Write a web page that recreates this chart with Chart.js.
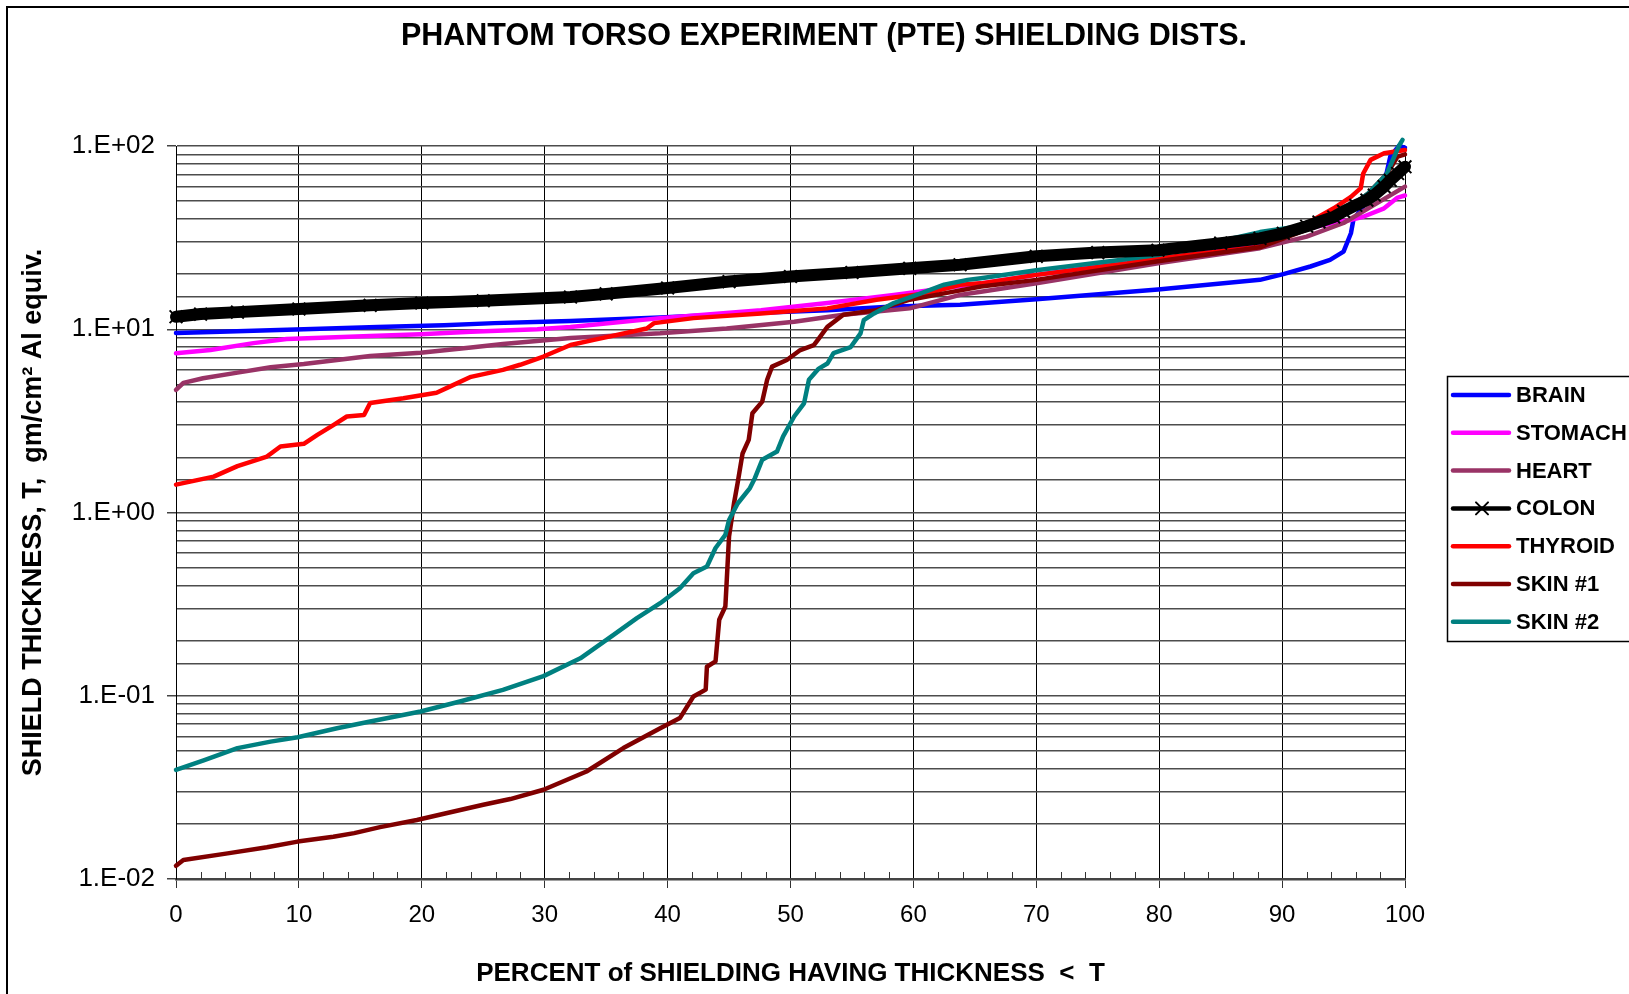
<!DOCTYPE html>
<html lang="en">
<head>
<meta charset="UTF-8">
<title>PTE shielding distributions</title>
<script src="https://cdn.jsdelivr.net/npm/chart.js"></script>
<style>
  html, body { margin: 0; padding: 0; background: #fff; }
</style>
</head>
<body>
<canvas id="myChart" width="1629" height="994"></canvas>
<script>
// percent of shielding (x) and thickness in gm/cm2 (y)
const brainX = [0, 3.6, 10.4, 16.4, 21.8, 25.9, 29.9, 32.1, 39.4, 47.6, 53, 58.4, 63.8, 70, 79.9, 88.2, 90.1, 92.3, 93.9, 95, 95.6, 95.8, 96.6, 97.7, 98.5, 98.8, 99.5, 100];
const brainY = [9.55, 9.7, 10, 10.3, 10.5, 10.8, 11.0, 11.1, 11.6, 12.3, 12.7, 13.3, 13.6, 14.6, 16.5, 18.6, 20, 22, 23.9, 26.5, 33.4, 39.5, 46.8, 57.5, 71, 87.5, 100, 98];

const stomachX = [0, 2.8, 6.3, 9.0, 15.8, 19.9, 24, 29.4, 32.1, 39.4, 47.6, 53, 58.4, 65.5, 70, 76.8, 80, 88, 92.8, 94.6, 95.6, 96.6, 98.3, 99.4, 100];
const stomachY = [7.4, 7.7, 8.4, 8.85, 9.2, 9.4, 9.7, 10.0, 10.3, 11.5, 12.7, 13.9, 15.4, 17.8, 19.8, 22.9, 24, 29, 36.3, 38.6, 39.5, 41.1, 45.7, 52.3, 53.7];

const heartX = [0, 0.6, 2.2, 5, 7.7, 10.4, 13.1, 15.8, 19.9, 24, 26.6, 32.1, 39.4, 44.8, 50.3, 54.3, 59.7, 63.8, 65.5, 70, 79.9, 88.2, 92, 95, 98, 100];
const heartY = [4.67, 5.1, 5.4, 5.8, 6.2, 6.46, 6.8, 7.15, 7.45, 7.95, 8.3, 8.97, 9.5, 10.1, 11.0, 12.0, 13.0, 15.4, 16.0, 17.8, 22.9, 27.7, 32, 38, 50, 60];

const colonX = [0, 2, 5, 10, 15.8, 20, 25, 32.1, 35, 40, 45, 50, 55, 59.7, 63.8, 70, 75, 79.9, 85, 88.2, 90.1, 92, 93, 94.2, 95, 96, 96.9, 97.5, 98.3, 98.8, 99.4, 100];
const colonY = [11.7, 12.1, 12.4, 12.9, 13.5, 13.9, 14.3, 15.0, 15.6, 16.8, 18.2, 19.4, 20.4, 21.5, 22.5, 25, 26.2, 27, 29.5, 31.3, 33.4, 36.5, 38.5, 41, 44, 47.5, 50.7, 54, 60, 65, 70.8, 77];

const thyroidX = [0, 3.07, 5.0, 7.4, 8.5, 10.4, 11.5, 12.8, 13.9, 15.3, 15.8, 18.5, 21.2, 22.1, 24, 26.6, 28, 29.9, 32.1, 34, 38.3, 38.9, 42.1, 47.6, 53, 57, 61.1, 63.8, 65.5, 70, 77.4, 79.9, 88.2, 90.1, 94.2, 95.6, 96.4, 96.6, 97.2, 98.3, 99.1, 100];
const thyroidY = [1.42, 1.57, 1.79, 2.02, 2.29, 2.37, 2.65, 3.0, 3.34, 3.4, 3.96, 4.2, 4.5, 4.8, 5.5, 6.0, 6.4, 7.1, 8.2, 8.75, 10.1, 10.8, 11.5, 12.2, 13.0, 14.5, 15.7, 17.5, 17.8, 19.8, 22.9, 24.4, 28.2, 32, 45.7, 52.8, 58.9, 70.8, 84, 91.2, 93, 95];

const skin1X = [0, 0.6, 4.2, 7.4, 9.9, 12.8, 14.5, 16.6, 19.6, 21.8, 25.0, 27.2, 29.9, 33.4, 36.4, 39.4, 41.0, 42.1, 43.1, 43.2, 43.9, 44.2, 44.7, 44.8, 45.0, 45.4, 45.7, 46.1, 46.6, 46.9, 47.7, 48.1, 48.5, 49.7, 50.8, 51.9, 52.3, 53, 54.3, 57, 59.7, 62.5, 65.5, 70, 79.9, 88.2, 92, 95, 97, 98.5, 99.4, 100];
const skin1Y = [0.0118, 0.0127, 0.0138, 0.0149, 0.016, 0.017, 0.0178, 0.0192, 0.021, 0.0227, 0.0254, 0.0273, 0.0307, 0.0386, 0.0518, 0.0665, 0.0755, 0.099, 0.108, 0.144, 0.154, 0.26, 0.307, 0.41, 0.74, 1.12, 1.45, 2.1, 2.49, 3.48, 4.03, 5.3, 6.25, 6.8, 7.7, 8.2, 8.9, 10.3, 12.0, 12.7, 14.5, 15.7, 17.1, 18.6, 23.5, 28, 35, 44, 55, 70, 87.5, 90];

const skin2X = [0, 2.25, 5.0, 7.7, 9.9, 13.1, 15.8, 19.9, 23.1, 26.6, 29.9, 32.9, 35.6, 37.5, 39.4, 41.0, 42.1, 43.2, 43.9, 44.7, 45.0, 45.7, 46.7, 47.1, 47.7, 48.9, 49.4, 50.3, 51.1, 51.5, 52.3, 53.0, 53.5, 54.9, 55.7, 55.96, 56.8, 58.4, 60.6, 62.5, 64.4, 65.5, 70, 76.8, 80, 88.2, 92, 95, 97, 98.5, 99.5, 99.8];
const skin2Y = [0.0394, 0.0444, 0.0518, 0.0562, 0.0594, 0.0665, 0.0724, 0.082, 0.093, 0.1076, 0.128, 0.16, 0.215, 0.265, 0.32, 0.386, 0.466, 0.507, 0.64, 0.755, 0.91, 1.12, 1.36, 1.54, 1.94, 2.15, 2.6, 3.34, 3.94, 5.3, 6.1, 6.5, 7.4, 8.0, 9.5, 11.2, 12.2, 13.9, 15.7, 17.5, 18.6, 19.0, 21.0, 23.9, 25.5, 33.9, 37, 44, 55, 70, 100, 108];

const seriesNames = ['BRAIN', 'STOMACH', 'HEART', 'COLON', 'THYROID', 'SKIN #1', 'SKIN #2'];
const seriesColors = ['#0000FF', '#FF00FF', '#993366', '#000000', '#FF0000', '#800000', '#008080'];
const seriesX = [brainX, stomachX, heartX, colonX, thyroidX, skin1X, skin2X];
const seriesY = [brainY, stomachY, heartY, colonY, thyroidY, skin1Y, skin2Y];
// Excel draws later series on top, colon band sits over everything
const drawOrder = [6, 5, 4, 0, 3, 2, 1];

const chartTitle = 'PHANTOM TORSO EXPERIMENT (PTE) SHIELDING DISTS.';
const FONT = "Arial, 'Liberation Sans', sans-serif";

function decadeLabel(v) {
  const e = Math.log10(v);
  const r = Math.round(e);
  if (Math.abs(e - r) > 1e-6) return '';
  return '1.E' + (r < 0 ? '-' : '+') + String(Math.abs(r)).padStart(2, '0');
}

const datasets = seriesNames.map((name, i) => {
  const isColon = name === 'COLON';
  return {
    label: name,
    data: seriesX[i].map((x, j) => ({ x: x, y: seriesY[i][j] })),
    borderColor: seriesColors[i],
    backgroundColor: seriesColors[i],
    borderWidth: isColon ? 12 : 4.5,
    borderJoinStyle: 'round',
    borderCapStyle: 'round',
    pointStyle: isColon ? 'crossRot' : 'circle',
    pointRadius: isColon ? 9 : 0,
    pointBorderWidth: 2,
    pointBorderColor: seriesColors[i],
    tension: 0,
    clip: false,
    order: drawOrder[i]
  };
});

// white page, outer frame and the page title (centred on the page, not the plot)
const framePlugin = {
  id: 'frame',
  beforeDraw(chart) {
    const ctx = chart.ctx;
    ctx.save();
    ctx.fillStyle = '#fff';
    ctx.fillRect(0, 0, chart.width, chart.height);
    ctx.strokeStyle = '#000';
    ctx.lineWidth = 2;
    ctx.strokeRect(7, 7, chart.width + 50, chart.height + 50);
    ctx.fillStyle = '#000';
    ctx.font = 'bold 30.5px ' + FONT;
    ctx.textAlign = 'center';
    ctx.textBaseline = 'middle';
    ctx.fillText(chartTitle, 824, 37);
    ctx.restore();
  }
};

// small inside ticks every 2 % on the x axis
const minorTicks = {
  id: 'minorTicks',
  beforeDatasetsDraw(chart) {
    const ctx = chart.ctx;
    const xs = chart.scales.x;
    const b = chart.chartArea.bottom;
    ctx.save();
    ctx.strokeStyle = '#333';
    ctx.lineWidth = 1;
    for (let v = 2; v < 100; v += 2) {
      if (v % 10 === 0) continue;
      const px = Math.round(xs.getPixelForValue(v)) + 0.5;
      ctx.beginPath();
      ctx.moveTo(px, b);
      ctx.lineTo(px, b - 7);
      ctx.stroke();
    }
    ctx.restore();
  }
};

// legend box on the right, partly cut by the page edge
const legendBox = {
  id: 'legendBox',
  afterDraw(chart) {
    const ctx = chart.ctx;
    const left = 1447, top = 376, rowH = 37.8;
    ctx.save();
    ctx.strokeStyle = '#000';
    ctx.lineWidth = 1.5;
    ctx.strokeRect(left + 0.5, top + 0.5, 300, 265);
    ctx.font = 'bold 22px ' + FONT;
    ctx.textBaseline = 'middle';
    ctx.textAlign = 'left';
    chart.data.datasets.forEach((ds, i) => {
      const y = top + 19 + i * rowH;
      ctx.strokeStyle = ds.borderColor;
      ctx.lineWidth = 4.5;
      ctx.lineCap = 'round';
      ctx.beginPath();
      ctx.moveTo(left + 6, y);
      ctx.lineTo(left + 62, y);
      ctx.stroke();
      if (ds.label === 'COLON') {
        ctx.lineWidth = 2;
        ctx.beginPath();
        ctx.moveTo(left + 29, y - 6); ctx.lineTo(left + 41, y + 6);
        ctx.moveTo(left + 29, y + 6); ctx.lineTo(left + 41, y - 6);
        ctx.stroke();
      }
      ctx.fillStyle = '#000';
      ctx.fillText(ds.label, left + 69, y + 1);
    });
    ctx.restore();
  }
};

const ctx = document.getElementById('myChart').getContext('2d');
new Chart(ctx, {
  type: 'line',
  data: { datasets: datasets },
  plugins: [framePlugin, minorTicks, legendBox],
  options: {
    responsive: false,
    animation: false,
    devicePixelRatio: 1,
    layout: { padding: { left: 0, right: 224, top: 146, bottom: 0 } },
    plugins: {
      legend: { display: false },
      tooltip: { enabled: false },
      title: { display: false }
    },
    scales: {
      x: {
        type: 'linear',
        min: 0,
        max: 100,
        afterFit: s => { s.height = 115; },
        ticks: {
          stepSize: 10,
          color: '#000',
          maxRotation: 0,
          padding: 13,
          font: { family: FONT, size: 24 }
        },
        grid: { color: '#000', lineWidth: 1, tickLength: 9, tickColor: '#333' },
        border: { color: '#444', width: 2.5 },
        title: {
          display: true,
          text: 'PERCENT of SHIELDING HAVING THICKNESS  <  T',
          color: '#000',
          font: { family: FONT, size: 26, weight: 'bold' },
          padding: { top: 0, bottom: 5 }
        }
      },
      y: {
        type: 'logarithmic',
        min: 0.01,
        max: 100,
        afterFit: s => { s.width = 176; },
        ticks: {
          autoSkip: false,
          color: '#000',
          padding: 12,
          font: { family: FONT, size: 26 },
          callback: v => decadeLabel(v)
        },
        grid: {
          color: '#4d4d4d',
          lineWidth: 1.5,
          tickLength: 9,
          tickColor: c => (c.tick && decadeLabel(c.tick.value) !== '') ? '#444' : 'rgba(0,0,0,0)'
        },
        border: { color: '#000', width: 1 },
        title: {
          display: true,
          text: 'SHIELD THICKNESS, T,  gm/cm\u00B2 Al equiv.',
          color: '#000',
          font: { family: FONT, size: 27, weight: 'bold' },
          padding: { top: 17, bottom: 0 }
        }
      }
    }
  }
});
</script>
</body>
</html>
